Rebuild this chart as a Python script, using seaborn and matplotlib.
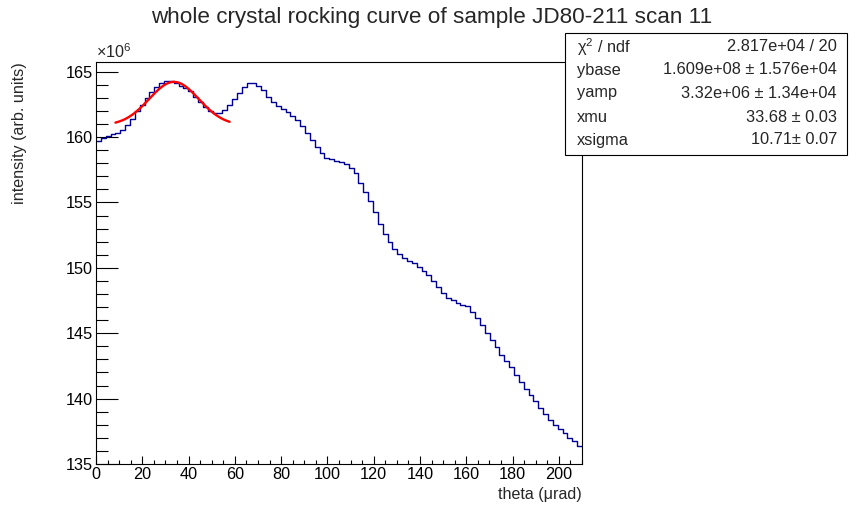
import numpy as np
import pandas as pd
import matplotlib
matplotlib.use("Agg")
import matplotlib.pyplot as plt
import seaborn as sns
from matplotlib.patches import Rectangle
from matplotlib.ticker import MultipleLocator

# ---------------- data ----------------
theta_min = 0.0
theta_max = 210.0
n_bins = 100

# bin contents in units of 1e6 (arb. units)
intensity = [
    159.70, 159.95, 160.05, 160.23, 160.33, 160.54, 160.94, 161.38, 161.99, 162.48,
    162.98, 163.45, 163.85, 164.13, 164.28, 164.28, 164.13, 163.93, 163.75, 163.50,
    163.06, 162.68, 162.30, 162.02, 161.85, 161.84, 162.09, 162.48, 162.92, 163.37,
    163.81, 164.13, 164.13, 163.90, 163.62, 163.06, 162.68, 162.38, 162.14, 161.94,
    161.62, 161.31, 160.84, 160.31, 159.77, 159.24, 158.75, 158.42, 158.32, 158.19,
    158.06, 157.94, 157.63, 157.25, 156.48, 155.77, 155.11, 154.26, 153.36, 152.58,
    151.97, 151.43, 151.05, 150.74, 150.51, 150.36, 150.06, 149.75, 149.45, 148.99,
    148.53, 148.07, 147.69, 147.53, 147.30, 147.19, 147.07, 146.61, 146.16, 145.62,
    145.01, 144.47, 143.94, 143.33, 142.89, 142.41, 141.79, 141.26, 140.72, 140.26,
    139.80, 139.27, 138.81, 138.40, 137.97, 137.66, 137.36, 136.97, 136.75, 136.40,
]

# Gaussian fit parameters (from the stats box), intensity in 1e6 units
fit_ybase = 160.9
fit_yamp = 3.32
fit_xmu = 33.68
fit_xsigma = 10.71
fit_lo = 8.4
fit_hi = 57.75

stats_names = ["\u03c7$^{2}$ / ndf", "ybase", "yamp", "xmu", "xsigma"]
stats_values = ["2.817e+04 / 20", "1.609e+08 \u00b1 1.576e+04", "3.32e+06 \u00b1 1.34e+04",
                "33.68 \u00b1 0.03", "10.71\u00b1 0.07"]

title = "whole crystal rocking curve of sample JD80-211 scan 11"
xlabel = "theta (\u03bcrad)"
ylabel = "intensity (arb. units)"

# ---------------- style ----------------
sns.set_theme(style="white")
plt.rcParams["font.family"] = ["Liberation Sans", "DejaVu Sans"]
plt.rcParams["mathtext.fontset"] = "custom"
plt.rcParams["mathtext.rm"] = "Liberation Sans"
plt.rcParams["mathtext.it"] = "Liberation Sans:italic"
plt.rcParams["mathtext.bf"] = "Liberation Sans:bold"

W, H = 862, 516
fig = plt.figure(figsize=(W / 100, H / 100), dpi=100)
ax = fig.add_axes([96 / W, 1 - 464 / H, (582 - 96) / W, (464 - 62) / H])

bin_w = (theta_max - theta_min) / n_bins
centers = theta_min + bin_w * (np.arange(n_bins) + 0.5)
df = pd.DataFrame({"theta": centers, "intensity": intensity})

sns.histplot(data=df, x="theta", weights="intensity", bins=n_bins,
             binrange=(theta_min, theta_max), element="step",
             fill=False, color="#000099", linewidth=1.0, ax=ax)

fx = np.linspace(fit_lo, fit_hi, 200)
fy = fit_ybase + fit_yamp * np.exp(-0.5 * ((fx - fit_xmu) / fit_xsigma) ** 2)
sns.lineplot(x=fx, y=fy, color="#ff0000", linewidth=1.7, ax=ax, zorder=5)

ax.set_xlim(theta_min, theta_max)
ax.set_ylim(135.0, 165.74)
ax.set_xlabel("")
ax.set_ylabel("")

ax.xaxis.set_major_locator(MultipleLocator(20))
ax.xaxis.set_minor_locator(MultipleLocator(5))
ax.yaxis.set_major_locator(MultipleLocator(5))
ax.yaxis.set_minor_locator(MultipleLocator(1))
ax.tick_params(axis="both", which="both", direction="in", top=False, right=False,
               colors="black", labelsize=11.7, width=0.8, pad=2.5)
ax.tick_params(axis="y", which="major", length=15.6, left=True)
ax.tick_params(axis="y", which="minor", length=8.4, left=True)
ax.tick_params(axis="x", which="major", length=5.6, bottom=True)
ax.tick_params(axis="x", which="minor", length=3.0, bottom=True)
for s in ax.spines.values():
    s.set_color("black")
    s.set_linewidth(0.8)

# texts
fig.text(432 / W, 1 - 18 / H, title, ha="center", va="center", fontsize=16.2)
fig.text(582 / W, 1 - 494 / H, xlabel, ha="right", va="center", fontsize=11.6)
fig.text(20 / W, 1 - 62 / H, ylabel, ha="center", va="top", rotation=90, fontsize=11.6)
fig.text(96 / W, 1 - 61 / H, r"$\times10^{6}$", ha="left", va="bottom", fontsize=11.6)

# stats box
box = Rectangle((565 / W, 1 - 155 / H), (847 - 565) / W, (155 - 33) / H,
                transform=fig.transFigure, facecolor="white", edgecolor="black",
                linewidth=0.8, zorder=10)
fig.add_artist(box)
rows_y = [47, 70, 93, 117, 140]
for name, val, yy in zip(stats_names, stats_values, rows_y):
    fig.text(577 / W, 1 - yy / H, name, ha="left", va="center", fontsize=11.8, zorder=11)
    fig.text(837 / W, 1 - yy / H, val, ha="right", va="center", fontsize=11.8, zorder=11)

fig.savefig("out.png", dpi=100)
